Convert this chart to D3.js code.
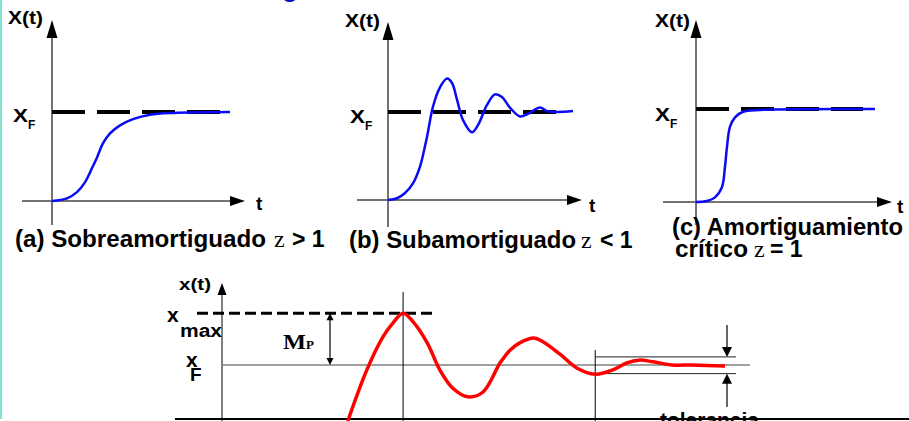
<!DOCTYPE html>
<html>
<head>
<meta charset="utf-8">
<script src="https://cdn.jsdelivr.net/npm/d3@7"></script>
<style>
  body { margin: 0; background: #fff; }
  svg { display: block; }
</style>
</head>
<body>
<div id="grafico"></div>
<script>
// respuestas: t en 0..10, x normalizado (xF = 1)
var tSobre = [0, 0.84, 1.40, 1.85, 2.25, 2.53, 2.87, 3.26, 3.82, 4.55, 5.51, 6.80, 10];
var xSobre = [0, 0.03, 0.10, 0.21, 0.37, 0.49, 0.65, 0.76, 0.85, 0.92, 0.97, 0.99, 1.0];

var tSub = [0, 0.49, 0.92, 1.35, 1.73, 2.11, 2.43, 2.81, 3.19, 3.46, 3.73, 4.05, 4.54, 4.86, 5.35, 5.78, 6.16, 6.59, 7.14, 7.57, 8.22, 8.59, 9.14, 10];
var xSub = [0, 0.02, 0.08, 0.19, 0.38, 0.72, 1.06, 1.28, 1.38, 1.33, 1.14, 0.91, 0.77, 0.85, 1.08, 1.20, 1.17, 1.05, 0.95, 0.98, 1.05, 1.01, 1.00, 1.01];

var tCrit = [0, 0.61, 1.06, 1.45, 1.62, 1.73, 1.90, 2.18, 2.63, 3.58, 10];
var xCrit = [0, 0.01, 0.05, 0.16, 0.38, 0.59, 0.81, 0.91, 0.97, 0.99, 1.0];

// curva roja de abajo (x(t) con xF = 1)
var tRoja = [2.50, 2.88, 3.20, 3.40, 3.60, 3.80, 4.08, 4.33, 4.59, 4.89, 5.19, 5.53, 5.73, 5.92, 6.20, 6.38, 6.72, 7.06, 7.42, 7.77, 8.05, 8.29, 8.57, 8.95, 9.36, 10];
var xRoja = [-0.04, 0.91, 1.52, 1.78, 1.96, 1.80, 1.41, 0.91, 0.57, 0.41, 0.50, 1.04, 1.28, 1.41, 1.50, 1.43, 1.20, 0.94, 0.83, 0.91, 1.04, 1.09, 1.06, 1.00, 1.00, 0.98];

var xF = 1;
var xMax = 1.96;
var tPico = 3.60;
var tEstab = 7.42;
var banda = [0.84, 1.15];

var W = 909, H = 421;
var svg = d3.select("#grafico").append("svg")
  .attr("width", W).attr("height", H);

svg.append("rect").attr("width", W).attr("height", H).attr("fill", "#fff");
svg.append("rect").attr("x", 0).attr("y", 0).attr("width", 2).attr("height", 419).attr("fill", "#7fdfd0");

// resto del titulo cortado arriba
svg.append("text").attr("x", 282).attr("y", -3).text("g")
  .attr("font-family", "Liberation Sans, Arial, sans-serif").attr("font-weight", "bold")
  .attr("font-size", 26).attr("fill", "#1010c0");

var sans = "Liberation Sans, Arial, Helvetica, sans-serif";
var serif = "Liberation Serif, Times New Roman, serif";

function texto(g, x, y, s, size, opts) {
  opts = opts || {};
  var t = g.append("text").attr("x", x).attr("y", y).text(s)
    .attr("font-family", opts.serif ? serif : sans)
    .attr("font-weight", opts.normal ? "normal" : "bold")
    .attr("font-size", size).attr("fill", "#000");
  if (opts.largo) t.attr("textLength", opts.largo).attr("lengthAdjust", "spacingAndGlyphs");
  return t;
}

function flecha(g, x, y, dir, largo, ancho) {
  var p;
  if (dir == "arriba") p = [[x, y], [x - ancho / 2, y + largo], [x + ancho / 2, y + largo]];
  if (dir == "abajo") p = [[x, y], [x - ancho / 2, y - largo], [x + ancho / 2, y - largo]];
  if (dir == "derecha") p = [[x, y], [x - largo, y - ancho / 2], [x - largo, y + ancho / 2]];
  g.append("path").attr("d", "M" + p.join("L") + "Z").attr("fill", "#000");
}

var linea = d3.line().curve(d3.curveCatmullRom.alpha(0.5));

// paneles de arriba
var paneles = [
  { t: tSobre, x: xSobre, x0: 52, x1: 230, y0: 201, y1: 112, ejeIzq: 22, ejeDer: 245, ejeArr: 20, ejeAb: 225, finGuion: 230,
    xt: [8, 24, 35], xf: [13, 122], tl: [256, 210] },
  { t: tSub, x: xSub, x0: 388, x1: 573, y0: 200, y1: 112, ejeIzq: 357, ejeDer: 582, ejeArr: 22, ejeAb: 227, finGuion: 558,
    xt: [345, 27, 35], xf: [350, 123], tl: [589, 212] },
  { t: tCrit, x: xCrit, x0: 696, x1: 875, y0: 202, y1: 109, ejeIzq: 663, ejeDer: 892, ejeArr: 20, ejeAb: 225, finGuion: 863,
    xt: [655, 27, 35], xf: [655, 121], tl: [897, 213] }
];

paneles.forEach(function(p) {
  var g = svg.append("g");
  var sx = d3.scaleLinear().domain([0, 10]).range([p.x0, p.x1]);
  var sy = d3.scaleLinear().domain([0, 1]).range([p.y0, p.y1]);

  g.append("line").attr("x1", sx(0)).attr("x2", sx(0)).attr("y1", p.ejeAb).attr("y2", p.ejeArr + 10)
    .attr("stroke", "#444").attr("stroke-width", 1.5);
  flecha(g, sx(0), p.ejeArr, "arriba", 18, 11);
  g.append("line").attr("x1", p.ejeIzq).attr("x2", p.ejeDer - 10).attr("y1", sy(0)).attr("y2", sy(0))
    .attr("stroke", "#444").attr("stroke-width", 1.5);
  flecha(g, p.ejeDer, sy(0), "derecha", 15, 10);

  g.append("line").attr("x1", sx(0)).attr("x2", p.finGuion).attr("y1", sy(xF)).attr("y2", sy(xF))
    .attr("stroke", "#000").attr("stroke-width", 4).attr("stroke-dasharray", "33,12");

  g.append("path").attr("d", linea(p.t.map(function(d, i) { return [sx(d), sy(p.x[i])]; })))
    .attr("fill", "none").attr("stroke", "#0a0af5").attr("stroke-width", 2.5);

  texto(g, p.xt[0], p.xt[1], "X(t)", 18, { largo: p.xt[2] });
  texto(g, p.xf[0], p.xf[1], "X", 19, { largo: 15 });
  texto(g, p.xf[0] + 15, p.xf[1] + 7, "F", 12);
  texto(g, p.tl[0], p.tl[1], "t", 19);
});

// leyendas de los paneles
texto(svg, 15, 247, "(a) Sobreamortiguado", 23, { largo: 251 });
texto(svg, 274, 247, "z", 24, { serif: true, normal: true });
texto(svg, 292, 247, "> 1", 23);

texto(svg, 349, 248, "(b) Subamortiguado", 23, { largo: 227 });
texto(svg, 581, 248, "z", 24, { serif: true, normal: true });
texto(svg, 600, 248, "< 1", 23);

texto(svg, 672, 235, "(c) Amortiguamiento", 23, { largo: 231 });
texto(svg, 675, 257, "crítico", 23, { largo: 73 });
texto(svg, 754, 257, "z", 24, { serif: true, normal: true });
texto(svg, 770, 257, "= 1", 23);

// panel de abajo
var gb = svg.append("g");
var bx = d3.scaleLinear().domain([0, 10]).range([222, 725]);
var by = d3.scaleLinear().domain([0, 1]).range([419, 365]);

gb.append("line").attr("x1", 175).attr("x2", W).attr("y1", by(0)).attr("y2", by(0))
  .attr("stroke", "#000").attr("stroke-width", 2);
gb.append("line").attr("x1", bx(0)).attr("x2", bx(0)).attr("y1", H).attr("y2", 292)
  .attr("stroke", "#000").attr("stroke-width", 1);
flecha(gb, bx(0), 283, "arriba", 12, 9);

gb.append("line").attr("x1", bx(0)).attr("x2", 750).attr("y1", by(xF)).attr("y2", by(xF))
  .attr("stroke", "#808080").attr("stroke-width", 1.5);
gb.append("line").attr("x1", 197).attr("x2", 437).attr("y1", by(xMax)).attr("y2", by(xMax))
  .attr("stroke", "#000").attr("stroke-width", 3).attr("stroke-dasharray", "11,5");

gb.append("line").attr("x1", bx(tPico)).attr("x2", bx(tPico)).attr("y1", 292).attr("y2", H)
  .attr("stroke", "#000").attr("stroke-width", 1);
gb.append("line").attr("x1", bx(tEstab)).attr("x2", bx(tEstab)).attr("y1", 350).attr("y2", H)
  .attr("stroke", "#000").attr("stroke-width", 1);
banda.forEach(function(b) {
  gb.append("line").attr("x1", bx(tEstab)).attr("x2", 736).attr("y1", by(b)).attr("y2", by(b))
    .attr("stroke", "#222").attr("stroke-width", 1);
});

// Mp
gb.append("line").attr("x1", 330).attr("x2", 330).attr("y1", by(xMax) + 4).attr("y2", by(xF) - 4)
  .attr("stroke", "#000").attr("stroke-width", 1.2);
flecha(gb, 330, by(xMax), "arriba", 7, 7);
flecha(gb, 330, by(xF), "abajo", 7, 7);

// tolerancia
gb.append("line").attr("x1", 727).attr("x2", 727).attr("y1", 325).attr("y2", by(banda[1]) - 8)
  .attr("stroke", "#000").attr("stroke-width", 1.2);
flecha(gb, 727, by(banda[1]), "abajo", 10, 10);
gb.append("line").attr("x1", 727).attr("x2", 727).attr("y1", 407).attr("y2", by(banda[0]) + 8)
  .attr("stroke", "#000").attr("stroke-width", 1.2);
flecha(gb, 727, by(banda[0]), "arriba", 10, 10);

gb.append("path").attr("d", linea(tRoja.map(function(d, i) { return [bx(d), by(xRoja[i])]; })))
  .attr("fill", "none").attr("stroke", "#ff0000").attr("stroke-width", 3.5)
  .attr("stroke-linejoin", "round");

texto(gb, 179, 290, "x(t)", 17, { largo: 32 });
texto(gb, 167, 322, "x", 21);
texto(gb, 180, 337, "max", 18, { largo: 42 });
texto(gb, 186, 367, "x", 21);
texto(gb, 190, 381, "F", 19);
texto(gb, 283, 349, "M", 20, { serif: true, largo: 23 });
texto(gb, 306, 349, "P", 13, { serif: true });
texto(gb, 660, 427, "tolerancia", 20, { largo: 99 });
</script>
</body>
</html>
